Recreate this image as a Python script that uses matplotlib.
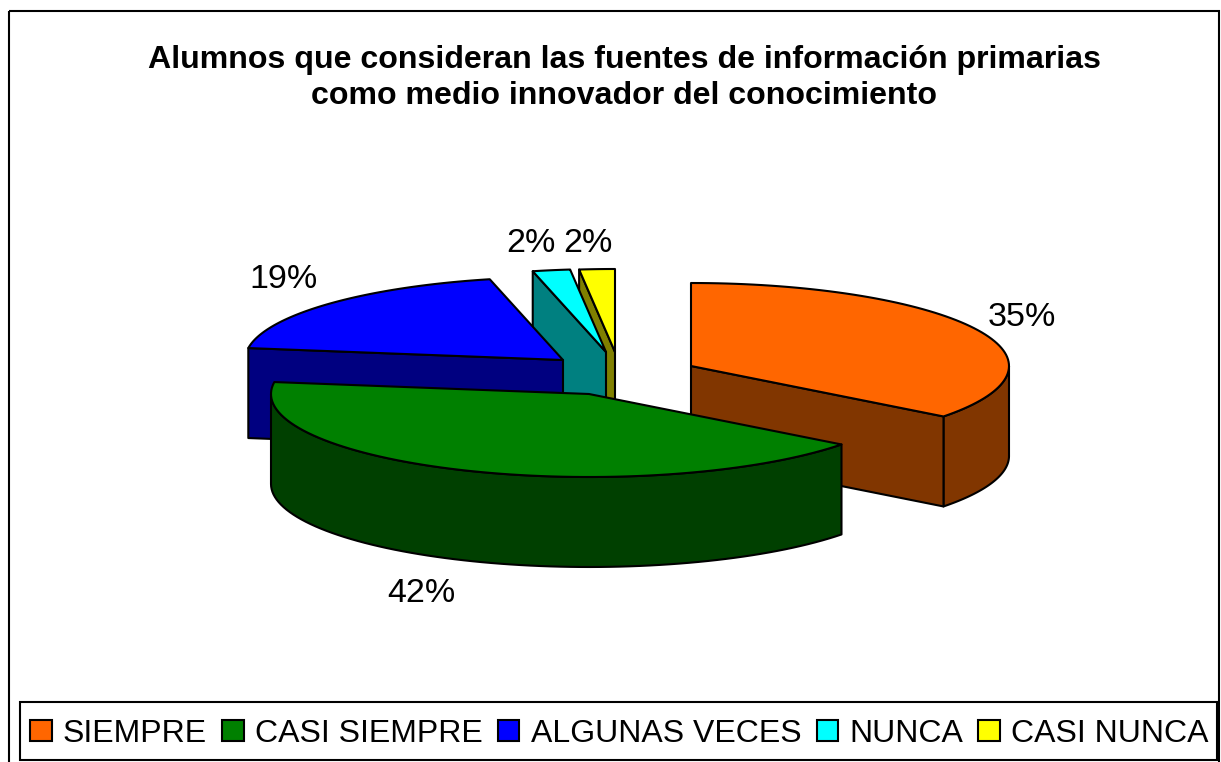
import numpy as np
import matplotlib
matplotlib.use("Agg")
import matplotlib.pyplot as plt
from matplotlib.patches import Polygon, Patch, Rectangle

categories = ["SIEMPRE", "CASI SIEMPRE", "ALGUNAS VECES", "NUNCA", "CASI NUNCA"]
values = [35.4, 41.9, 19.0, 1.9, 1.8]

top_colors = ["#ff6600", "#008000", "#0000ff", "#00ffff", "#ffff00"]
side_colors = ["#813600", "#004000", "#000080", "#008080", "#808000"]

# apex of each pulled-out slice, in pixels
centers = [(691, 366), (589, 394), (563, 360), (606, 352), (615, 352)]
label_pos = [(1022, 317), (421, 593), (284, 280), (531, 244), (588, 243)]

rx, ry, depth = 318, 83, 90
lw = 1.5

plt.rcParams["font.family"] = ["Liberation Sans", "DejaVu Sans"]

fig = plt.figure(figsize=(12.21, 7.62), dpi=100)
ax = fig.add_axes([0, 0, 1, 1])
ax.set_xlim(0, 1221)
ax.set_ylim(762, 0)
ax.axis("off")


def arc(c, a0, a1):
    # angles clockwise from 12 o'clock
    t = np.radians(np.linspace(a0, a1, 80))
    return np.column_stack([c[0] + rx * np.sin(t), c[1] - ry * np.cos(t)])


def poly(pts, color, z):
    ax.add_patch(Polygon(pts, closed=True, facecolor=color, edgecolor="black",
                         linewidth=lw, joinstyle="round", zorder=z))


cum = np.cumsum([0] + values) / sum(values) * 360

# back slices first, green goes on top of everything
for z, i in enumerate([4, 3, 2, 0, 1]):
    c = centers[i]
    a0, a1 = cum[i], cum[i + 1]
    shift = np.array([0, depth])
    # outer wall, only the part facing the viewer
    w0, w1 = max(a0, 90), min(a1, 270)
    if w0 < w1:
        edge = arc(c, w0, w1)
        poly(np.vstack([edge, (edge + shift)[::-1]]), side_colors[i], z * 3)
    # cut face
    face_a = {0: a1, 2: a0, 3: a0, 4: a0}.get(i)
    if face_a is not None:
        p = arc(c, face_a, face_a)[0]
        cc = np.array(c, dtype=float)
        poly([cc, p, p + shift, cc + shift], side_colors[i], z * 3 + 1)
    poly(np.vstack([[c], arc(c, a0, a1)]), top_colors[i], z * 3 + 2)

for (x, y), v in zip(label_pos, values):
    ax.text(x, y, f"{round(v)}%", fontsize=24.5, ha="center", va="center", zorder=30)

ax.text(624, 78, "Alumnos que consideran las fuentes de información primarias\n"
        "como medio innovador del conocimiento",
        fontsize=23.1, fontweight="bold", ha="center", va="center",
        linespacing=1.3, zorder=30)

# chart border, runs off the bottom
ax.add_patch(Rectangle((9, 11), 1210, 760, fill=False, edgecolor="black",
                       linewidth=lw, zorder=0))

# legend box drawn apart, it is taller than the legend's own padding gives
ax.add_patch(Rectangle((20, 702), 1197, 58, facecolor="white", edgecolor="black",
                       linewidth=lw, zorder=35))
handles = [Patch(facecolor=col, edgecolor="black", linewidth=lw) for col in top_colors]
leg = ax.legend(handles, categories, loc="center", ncol=5, fontsize=23,
                bbox_to_anchor=(21 / 1221, 0 / 762, 1197 / 1221, 57 / 762),
                handlelength=0.66, handleheight=0.66, handletextpad=0.36,
                columnspacing=0.48, borderpad=0.3, frameon=False)
leg.set_zorder(40)

fig.savefig("out.png", dpi=100)
